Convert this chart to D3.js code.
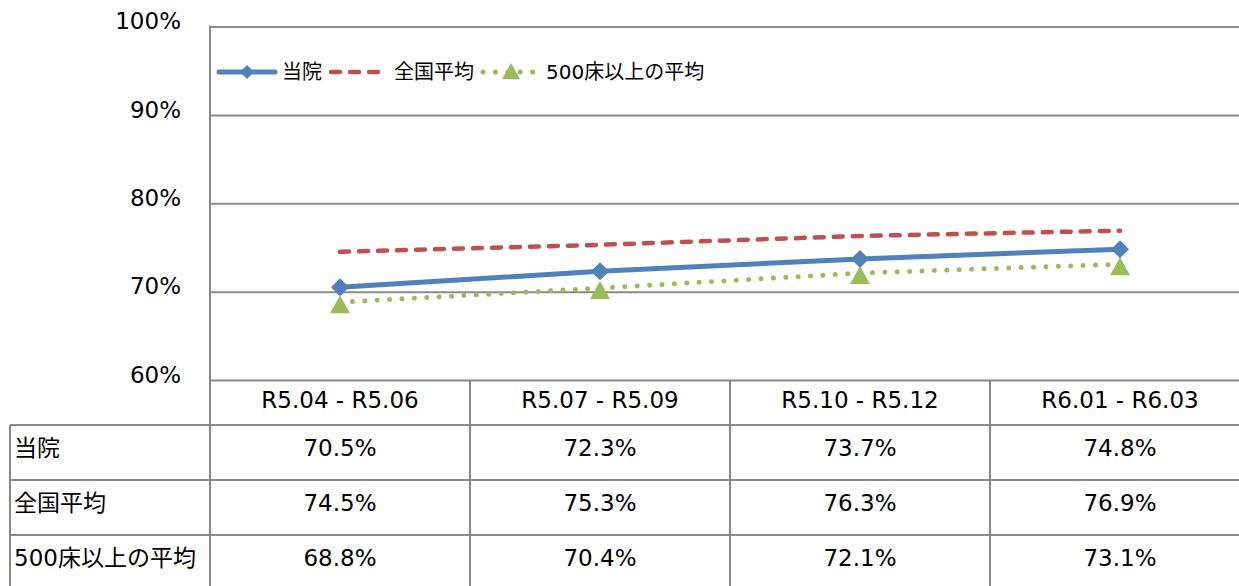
<!DOCTYPE html>
<html>
<head>
<meta charset="utf-8">
<script src="https://cdn.jsdelivr.net/npm/d3@7"></script>
<style>
  body { margin: 0; background: #fff; }
  svg { display: block; font-family: "DejaVu Sans", "Noto Sans CJK JP", sans-serif; }
</style>
</head>
<body>
<div class="chart"></div>
<script>
const categories = ['R5.04 - R5.06', 'R5.07 - R5.09', 'R5.10 - R5.12', 'R6.01 - R6.03'];
const seriesNames = ['当院', '全国平均', '500床以上の平均'];
const touin = [0.705, 0.723, 0.737, 0.748];
const zenkoku = [0.745, 0.753, 0.763, 0.769];
const over500 = [0.688, 0.704, 0.721, 0.731];
const yTicks = [0.6, 0.7, 0.8, 0.9, 1.0];

const series = [
  { name: seriesNames[0], values: touin, color: '#4f81bd', dash: null, width: 5, marker: 'diamond' },
  { name: seriesNames[1], values: zenkoku, color: '#c0504d', dash: '9 10', width: 4.5, marker: null },
  { name: seriesNames[2], values: over500, color: '#9bbb59', dash: '0.1 12.3', width: 5, marker: 'triangle' }
];

const width = 1239;
const height = 586;
const plotLeft = 210;
const plotRight = 1250;
const plotTop = 26.5;
const plotBottom = 380;
const gridColor = '#8a8a8a';

const svg = d3
  .select('.chart')
  .append('svg')
  .attr('width', width)
  .attr('height', height);

const x = d3.scaleBand().domain(categories).range([plotLeft, plotRight]);
const y = d3.scaleLinear().domain([0.6, 1.0]).range([plotBottom, plotTop]);
const fmt = d3.format('.0%');
const fmt1 = d3.format('.1%');

// gridlines + y labels
svg
  .append('g')
  .attr('transform', `translate(${plotLeft},0)`)
  .call(
    d3.axisLeft(y)
      .tickValues(yTicks)
      .tickFormat(fmt)
      .tickSizeInner(-(plotRight - plotLeft))
      .tickSizeOuter(0)
      .tickPadding(29)
  )
  .call((g) => g.select('.domain').remove())
  .call((g) => g.selectAll('line').attr('stroke', gridColor).attr('stroke-width', 2))
  .call((g) =>
    g.selectAll('text')
      .attr('fill', '#000')
      .attr('font-size', 23)
      .attr('font-family', '"DejaVu Sans", sans-serif')
      .attr('dy', '0.1em')
  );

svg
  .append('line')
  .attr('x1', plotLeft)
  .attr('x2', plotLeft)
  .attr('y1', plotTop - 1)
  .attr('y2', height)
  .attr('stroke', gridColor)
  .attr('stroke-width', 2);

// lines
const line = d3
  .line()
  .x((d, i) => x(categories[i]) + x.bandwidth() / 2)
  .y((d) => y(d));

series.forEach((s) => {
  svg
    .append('path')
    .datum(s.values)
    .attr('d', line)
    .attr('fill', 'none')
    .attr('stroke', s.color)
    .attr('stroke-width', s.width)
    .attr('stroke-linecap', 'round')
    .attr('stroke-dasharray', s.dash);
});

const diamond = (size) => `M0,${-size}L${size},0L0,${size}L${-size},0Z`;
const triangle = (w, h) => `M0,${-h / 2}L${w / 2},${h / 2}L${-w / 2},${h / 2}Z`;

series.forEach((s) => {
  if (!s.marker) return;
  svg
    .selectAll(null)
    .data(s.values)
    .enter()
    .append('path')
    .attr('d', s.marker === 'diamond' ? diamond(9) : triangle(20, 18))
    .attr('transform', (d, i) =>
      `translate(${x(categories[i]) + x.bandwidth() / 2},${y(d) + (s.marker === 'triangle' ? 2 : 0)})`)
    .attr('fill', s.color);
});

// legend
const legendY = 72;
const legendItems = [
  { s: series[0], x0: 219, text: 282 },
  { s: series[1], x0: 331, text: 394 },
  { s: series[2], x0: 483, text: 546 }
];
legendItems.forEach((it) => {
  const g = svg.append('g');
  g.append('line')
    .attr('x1', it.x0)
    .attr('x2', it.x0 + 56)
    .attr('y1', legendY)
    .attr('y2', legendY)
    .attr('stroke', it.s.color)
    .attr('stroke-width', it.s.width)
    .attr('stroke-linecap', 'round')
    .attr('stroke-dasharray', it.s.dash);
  if (it.s.marker) {
    g.append('path')
      .attr('d', it.s.marker === 'diamond' ? diamond(7) : triangle(18, 16))
      .attr('transform', `translate(${it.x0 + 28},${legendY + (it.s.marker === 'triangle' ? -1 : 0)})`)
      .attr('fill', it.s.color);
  }
  g.append('text')
    .attr('x', it.text)
    .attr('y', legendY + 7)
    .attr('font-size', 20)
    .text(it.s.name);
});

// data table
const rows = d3.scaleBand().domain(seriesNames).range([425, 590]);

// header row
svg
  .selectAll('.head')
  .data(categories)
  .enter()
  .append('text')
  .attr('x', (d) => x(d) + x.bandwidth() / 2)
  .attr('y', 408)
  .attr('text-anchor', 'middle')
  .attr('font-size', 23)
  .text((d) => d);

// horizontal lines
svg
  .selectAll('.hline')
  .data(seriesNames)
  .enter()
  .append('line')
  .attr('x1', 10)
  .attr('x2', plotRight)
  .attr('y1', (d) => rows(d))
  .attr('y2', (d) => rows(d))
  .attr('stroke', gridColor)
  .attr('stroke-width', 2);

// vertical lines
svg
  .selectAll('.vline')
  .data(categories.slice(1))
  .enter()
  .append('line')
  .attr('x1', (d) => x(d))
  .attr('x2', (d) => x(d))
  .attr('y1', plotBottom)
  .attr('y2', height)
  .attr('stroke', gridColor)
  .attr('stroke-width', 2);

svg
  .append('line')
  .attr('x1', 10)
  .attr('x2', 10)
  .attr('y1', rows(seriesNames[0]))
  .attr('y2', height)
  .attr('stroke', gridColor)
  .attr('stroke-width', 2);

series.forEach((s) => {
  const cy = rows(s.name) + rows.bandwidth() / 2;
  svg
    .append('text')
    .attr('x', 14)
    .attr('y', cy + 3)
    .attr('font-size', 23)
    .text(s.name);
  svg
    .selectAll(null)
    .data(s.values)
    .enter()
    .append('text')
    .attr('x', (d, i) => x(categories[i]) + x.bandwidth() / 2)
    .attr('y', cy + 3)
    .attr('text-anchor', 'middle')
    .attr('font-size', 23)
    .text((d) => fmt1(d));
});
</script>
</body>
</html>
